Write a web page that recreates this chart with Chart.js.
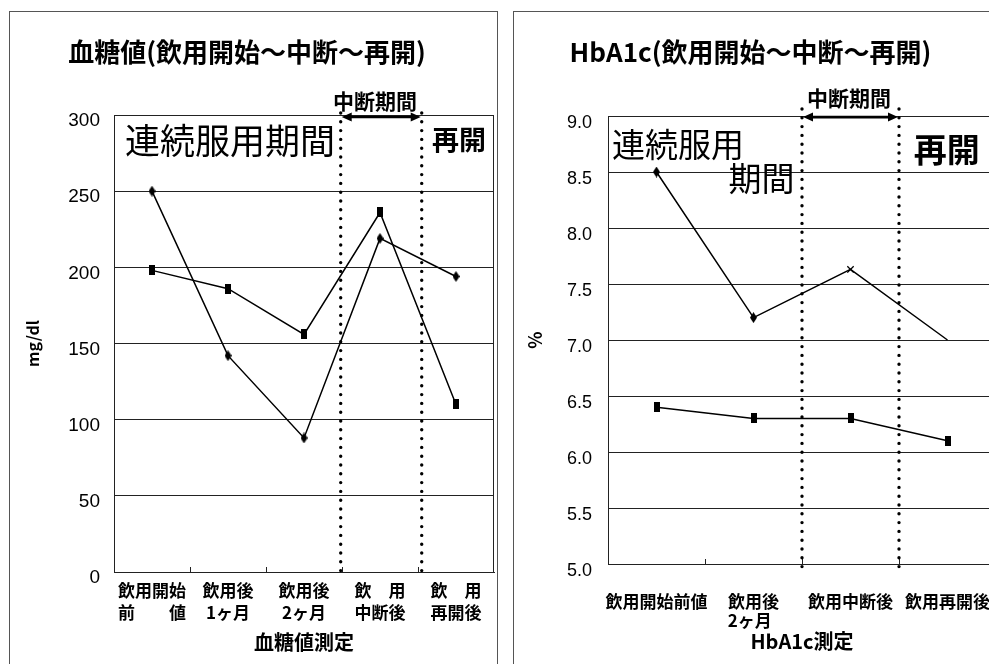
<!DOCTYPE html>
<html>
<head>
<meta charset="utf-8">
<script src="https://cdn.jsdelivr.net/npm/chart.js@4/dist/chart.umd.min.js"></script>
<style>
  html, body { margin: 0; padding: 0; background: #fff; overflow: hidden; width: 989px; height: 664px; }
  .panel { position: absolute; border: 1px solid #555; box-sizing: border-box; }
  canvas { position: absolute; top: 0; }
</style>
</head>
<body>
<div class="panel" style="left:9px;top:11px;width:489px;height:720px"></div>
<div class="panel" style="left:513px;top:11px;width:600px;height:720px"></div>
<canvas id="glucose" width="505" height="664" style="left:0;width:505px;height:664px"></canvas>
<canvas id="hba1c" width="494" height="664" style="left:505px;width:494px;height:664px"></canvas>
<script>
// ---- blood glucose (mg/dl) ----
const glucoseCategories = [
  ['飲用開始', '前　　値'],
  ['飲用後', '1ヶ月'],
  ['飲用後', '2ヶ月'],
  ['飲　用', '中断後'],
  ['飲　用', '再開後']
];
const glucoseSeriesA = [250, 142, 88, 219, 194];
const glucoseSeriesB = [198, 186, 156, 236, 110];
const glucoseTicks = [0, 50, 100, 150, 200, 250, 300];

// ---- HbA1c (%) ----
const hba1cCategories = ['飲用開始前値', ['飲用後', '2ヶ月  '], '飲用中断後', '飲用再開後'];
const hba1cSeriesA = [8.5, 7.2, 7.63, 7.0];
const hba1cSeriesB = [6.4, 6.3, 6.3, 6.1];
const hba1cTicks = ['5.0', '5.5', '6.0', '6.5', '7.0', '7.5', '8.0', '8.5', '9.0'];

const CJK = "'Noto Sans CJK JP', 'Noto Sans', sans-serif";
const NUM = "'Liberation Sans', Arial, sans-serif";
Chart.defaults.font.family = CJK;
Chart.defaults.color = '#000';

// small black marker images
function marker(w, h, shape) {
  const c = document.createElement('canvas');
  c.width = w; c.height = h;
  const g = c.getContext('2d');
  g.fillStyle = '#000';
  if (shape === 'rect') {
    g.fillRect(0, 0, w, h);
  } else {
    g.beginPath();
    g.moveTo(w / 2, 0); g.lineTo(w, h / 2); g.lineTo(w / 2, h); g.lineTo(0, h / 2);
    g.closePath(); g.fill();
  }
  return c;
}
const rectMark = marker(6, 10, 'rect');
const diamondMark = marker(7, 11, 'diamond');

// interruption period marks, boundary ticks, frame and in-plot notes
const periodMarks = {
  id: 'periodMarks',
  afterDatasetsDraw(chart, args, o) {
    const { ctx, chartArea: a } = chart;
    const X = v => chart.scales.x.getPixelForValue(v);
    const Y = v => chart.scales.y.getPixelForValue(v);
    ctx.save();
    ctx.strokeStyle = '#222';
    ctx.lineWidth = 1;
    // right edge of the plot frame
    ctx.beginPath();
    ctx.moveTo(Math.round(a.right) - 0.5, a.top);
    ctx.lineTo(Math.round(a.right) - 0.5, a.bottom);
    ctx.stroke();
    // short inward ticks between categories
    const n = chart.data.labels.length;
    for (let i = 0; i < n - 1; i++) {
      const x = Math.round(X(i + 0.5)) + 0.5;
      ctx.beginPath();
      ctx.moveTo(x, a.bottom);
      ctx.lineTo(x, a.bottom - 5);
      ctx.stroke();
    }
    // dotted vertical lines
    ctx.strokeStyle = '#000';
    ctx.lineWidth = 3.4;
    ctx.lineCap = 'round';
    ctx.setLineDash([0, 8.8]);
    o.breaks.forEach(b => {
      ctx.beginPath();
      ctx.moveTo(X(b), Y(o.dotTop));
      ctx.lineTo(X(b), Y(o.dotBottom));
      ctx.stroke();
    });
    ctx.setLineDash([]);
    ctx.lineCap = 'butt';
    // double-headed arrow
    const x1 = X(o.breaks[0]) + 1, x2 = X(o.breaks[1]) - 1, ya = Y(o.arrowY);
    const hl = 10, hw = 4.5;
    ctx.lineWidth = 2.6;
    ctx.beginPath();
    ctx.moveTo(x1 + hl - 2, ya); ctx.lineTo(x2 - hl + 2, ya);
    ctx.stroke();
    ctx.fillStyle = '#000';
    ctx.beginPath();
    ctx.moveTo(x1, ya); ctx.lineTo(x1 + hl, ya - hw); ctx.lineTo(x1 + hl, ya + hw); ctx.closePath();
    ctx.moveTo(x2, ya); ctx.lineTo(x2 - hl, ya - hw); ctx.lineTo(x2 - hl, ya + hw); ctx.closePath();
    ctx.fill();
    // notes
    ctx.textBaseline = 'middle';
    o.notes.forEach(t => {
      ctx.font = t.font;
      ctx.textAlign = t.align;
      ctx.fillText(t.text, X(t.x), Y(t.y));
    });
    ctx.restore();
  }
};

function xScale(height, padding, lineHeight) {
  return {
    type: 'category',
    offset: true,
    grid: { display: false, drawTicks: false },
    border: { display: true, color: '#222', width: 1 },
    ticks: {
      autoSkip: false, maxRotation: 0, minRotation: 0, padding: padding,
      font: { family: CJK, size: 17, weight: 'bold', lineHeight: lineHeight }
    },
    afterFit: s => { s.height = height; s.paddingLeft = 0; s.paddingRight = 0; }
  };
}

function yScale(min, max, tickList, width, pad, size, offset, title, titleSize, titlePad) {
  return {
    min: min, max: max,
    afterBuildTicks: s => { s.ticks = tickList.map(v => ({ value: Number(v) })); },
    grid: { color: '#222', lineWidth: 1, drawTicks: false },
    border: { display: true, color: '#222', width: 1 },
    ticks: {
      padding: pad, labelOffset: offset,
      font: { family: NUM, size: size },
      callback: (v, i) => String(tickList[i])
    },
    title: {
      display: true, text: title,
      font: { family: CJK, size: titleSize, weight: 'bold' },
      padding: { top: titlePad, bottom: 0 }
    },
    afterFit: s => { s.width = width; s.paddingTop = 0; s.paddingBottom = 0; }
  };
}

const lineStyle = { borderColor: '#000', borderWidth: 1.5, tension: 0, fill: false,
  pointBackgroundColor: '#000', pointBorderColor: '#000' };

new Chart(document.getElementById('glucose'), {
  type: 'line',
  data: {
    labels: glucoseCategories,
    datasets: [
      Object.assign({ data: glucoseSeriesA, pointStyle: diamondMark, pointRadius: 4 }, lineStyle),
      Object.assign({ data: glucoseSeriesB, pointStyle: rectMark, pointRadius: 4 }, lineStyle)
    ]
  },
  options: {
    responsive: false, animation: false, devicePixelRatio: 1,
    layout: { padding: { left: 0, right: 11, top: 0, bottom: 0 }, autoPadding: false },
    plugins: {
      legend: { display: false },
      tooltip: { enabled: false },
      title: {
        display: true, text: '血糖値(飲用開始～中断～再開)',
        font: { family: CJK, size: 26, weight: 'bold' },
        padding: { top: 36.4, bottom: 47.4 }
      },
      periodMarks: {
        breaks: [2.483, 3.549], dotTop: 301.3, dotBottom: -2.6, arrowY: 298.7,
        notes: [
          { text: '連続服用期間', x: -0.355, y: 283, align: 'left', font: `35px ${CJK}` },
          { text: '再開', x: 4.04, y: 283.5, align: 'center', font: `bold 27px ${CJK}` },
          { text: '中断期間', x: 2.934, y: 309.2, align: 'center', font: `bold 21px ${CJK}` }
        ]
      }
    },
    scales: {
      x: Object.assign(xScale(92, 7, 1.3), {
        title: { display: true, text: '血糖値測定', font: { family: CJK, size: 20, weight: 'bold' },
                 padding: { top: 0, bottom: 10 } }
      }),
      y: yScale(0, 300, glucoseTicks, 114, 14, 19, 6, 'mg/dl', 16, 23)
    }
  },
  plugins: [periodMarks]
});

new Chart(document.getElementById('hba1c'), {
  type: 'line',
  data: {
    labels: hba1cCategories,
    datasets: [
      Object.assign({ data: hba1cSeriesA, pointStyle: [diamondMark, diamondMark, 'crossRot', 'crossRot'],
        pointRadius: [4, 4, 4.5, 0], pointBorderWidth: 1.3 }, lineStyle),
      Object.assign({ data: hba1cSeriesB, pointStyle: rectMark, pointRadius: 4 }, lineStyle)
    ]
  },
  options: {
    responsive: false, animation: false, devicePixelRatio: 1,
    layout: { padding: { left: 0, right: 3, top: 0, bottom: 0 }, autoPadding: false },
    plugins: {
      legend: { display: false },
      tooltip: { enabled: false },
      title: {
        display: true, text: 'HbA1c(飲用開始～中断～再開)',
        font: { family: CJK, size: 26, weight: 'bold' },
        padding: { top: 36.4, bottom: 48.4 }
      },
      periodMarks: {
        breaks: [1.5, 2.5], dotTop: 9.0625, dotBottom: 4.973, arrowY: 8.99,
        notes: [
          { text: '連続服用', x: -0.459, y: 8.75, align: 'left', font: `33px ${CJK}` },
          { text: '期間', x: 1.082, y: 8.446, align: 'center', font: `33px ${CJK}` },
          { text: '再開', x: 2.992, y: 8.705, align: 'center', font: `bold 33px ${CJK}` },
          { text: '中断期間', x: 1.985, y: 9.16, align: 'center', font: `bold 21px ${CJK}` }
        ]
      }
    },
    scales: {
      x: Object.assign(xScale(100, 28, 1.1), {
        title: { display: true, text: 'HbA1c測定', font: { family: CJK, size: 20, weight: 'bold' },
                 padding: { top: 0, bottom: 11 } }
      }),
      y: yScale(5, 9, hba1cTicks, 103, 16, 18, 7, '%', 18, 19)
    }
  },
  plugins: [periodMarks]
});
</script>
</body>
</html>
